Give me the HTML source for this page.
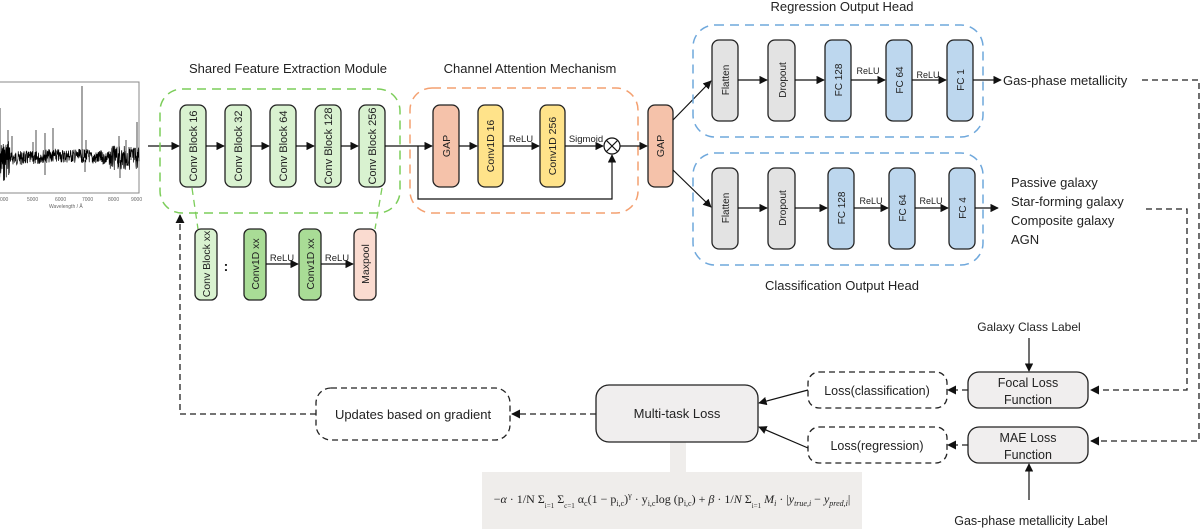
<!DOCTYPE html>
<html><head><meta charset="utf-8"><style>
body{margin:0;background:#fff;width:1200px;height:529px;overflow:hidden}
svg{display:block}
text{font-family:"Liberation Sans",sans-serif;fill:#222}
.b{stroke:#222;stroke-width:1.3}
.l{stroke:#111;stroke-width:1.2;fill:none}
.d{stroke:#222;stroke-width:1.3;fill:none;stroke-dasharray:6,4}
</style></head><body>
<svg width="1200" height="529" viewBox="0 0 1200 529" xmlns="http://www.w3.org/2000/svg">
<defs>
<marker id="a" viewBox="0 0 10 10" refX="9" refY="5" markerWidth="7" markerHeight="7" orient="auto-start-reverse"><path d="M0,0L10,5L0,10z" fill="#111"/></marker>
</defs>

<!-- spectrum -->
<rect x="-2" y="82" width="141" height="111" fill="#fff" stroke="#888" stroke-width="1"/>
<path id="spec" d="" stroke="#000" stroke-width="0.7" fill="none"/>
<text x="0" y="201" style="font-size:5px;fill:#666">000</text><text x="27" y="201" style="font-size:5px;fill:#666">5000</text><text x="55" y="201" style="font-size:5px;fill:#666">6000</text><text x="82" y="201" style="font-size:5px;fill:#666">7000</text><text x="108" y="201" style="font-size:5px;fill:#666">8000</text><text x="131" y="201" style="font-size:5px;fill:#666">9000</text><text x="49" y="208" style="font-size:5px;fill:#666">Wavelength / Å</text>

<line x1="148" y1="146" x2="179" y2="146" class="l" marker-end="url(#a)"/>

<!-- shared feature module -->
<text x="288" y="73" text-anchor="middle" style="font-size:13px">Shared Feature Extraction Module</text>
<rect x="160" y="89" width="240" height="124" rx="22" fill="none" stroke="#7ccd5a" stroke-width="1.5" stroke-dasharray="9,6"/>
<g class="b" fill="#d9f2d0">
<rect x="180" y="105" width="26" height="82" rx="7"/>
<rect x="225" y="105" width="26" height="82" rx="7"/>
<rect x="270" y="105" width="26" height="82" rx="7"/>
<rect x="315" y="105" width="26" height="82" rx="7"/>
<rect x="359" y="105" width="26" height="82" rx="7"/>
</g>
<text transform="translate(197,146) rotate(-90)" text-anchor="middle" style="font-size:11px">Conv Block 16</text>
<text transform="translate(242,146) rotate(-90)" text-anchor="middle" style="font-size:11px">Conv Block 32</text>
<text transform="translate(287,146) rotate(-90)" text-anchor="middle" style="font-size:11px">Conv Block 64</text>
<text transform="translate(332,146) rotate(-90)" text-anchor="middle" style="font-size:11px">Conv Block 128</text>
<text transform="translate(376,146) rotate(-90)" text-anchor="middle" style="font-size:11px">Conv Block 256</text>
<line x1="206" y1="146" x2="224" y2="146" class="l" marker-end="url(#a)"/>
<line x1="251" y1="146" x2="269" y2="146" class="l" marker-end="url(#a)"/>
<line x1="296" y1="146" x2="314" y2="146" class="l" marker-end="url(#a)"/>
<line x1="341" y1="146" x2="358" y2="146" class="l" marker-end="url(#a)"/>

<line x1="192" y1="188" x2="198" y2="229" stroke="#7ccd5a" stroke-width="1.3" stroke-dasharray="7,5"/>
<line x1="382" y1="188" x2="375" y2="229" stroke="#7ccd5a" stroke-width="1.3" stroke-dasharray="7,5"/>
<rect x="195" y="229" width="22" height="71" rx="6" fill="#d9f2d0" class="b"/>
<text transform="translate(210,264) rotate(-90)" text-anchor="middle" style="font-size:10.5px">Conv Block xx</text>
<text x="226" y="271" text-anchor="middle" style="font-size:14px;font-weight:bold">:</text>
<rect x="244" y="229" width="22" height="71" rx="6" fill="#a9dc96" class="b"/>
<text transform="translate(259,264) rotate(-90)" text-anchor="middle" style="font-size:10.5px">Conv1D xx</text>
<rect x="299" y="229" width="22" height="71" rx="6" fill="#a9dc96" class="b"/>
<text transform="translate(314,264) rotate(-90)" text-anchor="middle" style="font-size:10.5px">Conv1D xx</text>
<rect x="354" y="229" width="22" height="71" rx="6" fill="#fadbd0" class="b"/>
<text transform="translate(369,264) rotate(-90)" text-anchor="middle" style="font-size:10.5px">Maxpool</text>
<line x1="266" y1="264" x2="298" y2="264" class="l" marker-end="url(#a)"/>
<line x1="321" y1="264" x2="353" y2="264" class="l" marker-end="url(#a)"/>
<text x="282" y="261" text-anchor="middle" style="font-size:9.5px">ReLU</text>
<text x="337" y="261" text-anchor="middle" style="font-size:9.5px">ReLU</text>

<!-- channel attention -->
<text x="530" y="73" text-anchor="middle" style="font-size:13px">Channel Attention Mechanism</text>
<rect x="410" y="88" width="228" height="125" rx="22" fill="none" stroke="#f4a070" stroke-width="1.5" stroke-dasharray="9,6"/>
<rect x="433" y="105" width="26" height="82" rx="7" fill="#f5c2aa" class="b"/>
<text transform="translate(450,146) rotate(-90)" text-anchor="middle" style="font-size:10.5px">GAP</text>
<rect x="478" y="105" width="25" height="82" rx="7" fill="#ffe38a" class="b"/>
<text transform="translate(494,146) rotate(-90)" text-anchor="middle" style="font-size:10.5px">Conv1D 16</text>
<rect x="540" y="105" width="25" height="82" rx="7" fill="#ffe38a" class="b"/>
<text transform="translate(556,146) rotate(-90)" text-anchor="middle" style="font-size:10.5px">Conv1D 256</text>
<line x1="385" y1="146" x2="432" y2="146" class="l" marker-end="url(#a)"/>
<line x1="459" y1="146" x2="477" y2="146" class="l" marker-end="url(#a)"/>
<line x1="503" y1="146" x2="539" y2="146" class="l" marker-end="url(#a)"/>
<line x1="565" y1="146" x2="603" y2="146" class="l" marker-end="url(#a)"/>
<text x="521" y="142" text-anchor="middle" style="font-size:9.5px">ReLU</text>
<text x="586" y="142" text-anchor="middle" style="font-size:9.5px">Sigmoid</text>
<circle cx="612" cy="146" r="8" fill="#fff" stroke="#111" stroke-width="1.2"/>
<path d="M606.3,140.3L617.7,151.7M617.7,140.3L606.3,151.7" stroke="#111" stroke-width="1.1"/>
<path d="M418,146V199H612V155" class="l" marker-end="url(#a)"/>
<line x1="620" y1="146" x2="647" y2="146" class="l" marker-end="url(#a)"/>
<rect x="648" y="105" width="25" height="82" rx="7" fill="#f5c2aa" class="b"/>
<text transform="translate(664,146) rotate(-90)" text-anchor="middle" style="font-size:10.5px">GAP</text>
<line x1="673" y1="120" x2="711" y2="81" class="l" marker-end="url(#a)"/>
<line x1="673" y1="170" x2="711" y2="207" class="l" marker-end="url(#a)"/>

<!-- regression head -->
<text x="842" y="11" text-anchor="middle" style="font-size:13px">Regression Output Head</text>
<rect x="693" y="25" width="290" height="112" rx="22" fill="none" stroke="#6fa8dc" stroke-width="1.5" stroke-dasharray="9,6"/>
<rect x="712" y="40" width="26" height="81" rx="7" fill="#e3e3e3" class="b"/>
<text transform="translate(729,80) rotate(-90)" text-anchor="middle" style="font-size:10px">Flatten</text>
<rect x="768" y="40" width="27" height="81" rx="7" fill="#e3e3e3" class="b"/>
<text transform="translate(786,80) rotate(-90)" text-anchor="middle" style="font-size:10px">Dropout</text>
<rect x="825" y="40" width="26" height="81" rx="7" fill="#bdd7ee" class="b"/>
<text transform="translate(842,80) rotate(-90)" text-anchor="middle" style="font-size:10px">FC 128</text>
<rect x="886" y="40" width="26" height="81" rx="7" fill="#bdd7ee" class="b"/>
<text transform="translate(903,80) rotate(-90)" text-anchor="middle" style="font-size:10px">FC 64</text>
<rect x="947" y="40" width="26" height="81" rx="7" fill="#bdd7ee" class="b"/>
<text transform="translate(964,80) rotate(-90)" text-anchor="middle" style="font-size:10px">FC 1</text>
<line x1="738" y1="80" x2="767" y2="80" class="l" marker-end="url(#a)"/>
<line x1="795" y1="80" x2="824" y2="80" class="l" marker-end="url(#a)"/>
<line x1="851" y1="80" x2="885" y2="80" class="l" marker-end="url(#a)"/>
<line x1="912" y1="80" x2="946" y2="80" class="l" marker-end="url(#a)"/>
<text x="868" y="74" text-anchor="middle" style="font-size:9px">ReLU</text>
<text x="928" y="78" text-anchor="middle" style="font-size:9px">ReLU</text>
<line x1="973" y1="80" x2="1001" y2="80" class="l" marker-end="url(#a)"/>
<text x="1003" y="85" style="font-size:13px">Gas-phase metallicity</text>
<path d="M1142,80H1199V441H1091" class="d" marker-end="url(#a)"/>

<!-- classification head -->
<text x="842" y="290" text-anchor="middle" style="font-size:13px">Classification Output Head</text>
<rect x="693" y="153" width="290" height="112" rx="22" fill="none" stroke="#6fa8dc" stroke-width="1.5" stroke-dasharray="9,6"/>
<rect x="712" y="168" width="26" height="81" rx="7" fill="#e3e3e3" class="b"/>
<text transform="translate(729,208) rotate(-90)" text-anchor="middle" style="font-size:10px">Flatten</text>
<rect x="768" y="168" width="27" height="81" rx="7" fill="#e3e3e3" class="b"/>
<text transform="translate(786,208) rotate(-90)" text-anchor="middle" style="font-size:10px">Dropout</text>
<rect x="828" y="168" width="26" height="81" rx="7" fill="#bdd7ee" class="b"/>
<text transform="translate(845,208) rotate(-90)" text-anchor="middle" style="font-size:10px">FC 128</text>
<rect x="889" y="168" width="26" height="81" rx="7" fill="#bdd7ee" class="b"/>
<text transform="translate(906,208) rotate(-90)" text-anchor="middle" style="font-size:10px">FC 64</text>
<rect x="949" y="168" width="26" height="81" rx="7" fill="#bdd7ee" class="b"/>
<text transform="translate(966,208) rotate(-90)" text-anchor="middle" style="font-size:10px">FC 4</text>
<line x1="738" y1="208" x2="767" y2="208" class="l" marker-end="url(#a)"/>
<line x1="795" y1="208" x2="827" y2="208" class="l" marker-end="url(#a)"/>
<line x1="854" y1="208" x2="888" y2="208" class="l" marker-end="url(#a)"/>
<line x1="915" y1="208" x2="948" y2="208" class="l" marker-end="url(#a)"/>
<text x="871" y="204" text-anchor="middle" style="font-size:9px">ReLU</text>
<text x="931" y="204" text-anchor="middle" style="font-size:9px">ReLU</text>
<line x1="975" y1="208" x2="998" y2="208" class="l" marker-end="url(#a)"/>
<text x="1011" y="187" style="font-size:13px">Passive galaxy</text><text x="1011" y="206" style="font-size:13px">Star-forming galaxy</text><text x="1011" y="225" style="font-size:13px">Composite galaxy</text><text x="1011" y="244" style="font-size:13px">AGN</text>
<path d="M1146,209H1187V390H1091" class="d" marker-end="url(#a)"/>

<!-- loss section -->
<text x="1029" y="331" text-anchor="middle" style="font-size:12px">Galaxy Class Label</text>
<line x1="1029" y1="338" x2="1029" y2="371" class="l" marker-end="url(#a)"/>
<rect x="968" y="372" width="120" height="36" rx="11" fill="#f0eeee" class="b"/>
<text x="1028" y="387" text-anchor="middle" style="font-size:12.5px">Focal Loss</text>
<text x="1028" y="404" text-anchor="middle" style="font-size:12.5px">Function</text>
<rect x="968" y="427" width="120" height="36" rx="11" fill="#f0eeee" class="b"/>
<text x="1028" y="442" text-anchor="middle" style="font-size:12.5px">MAE Loss</text>
<text x="1028" y="459" text-anchor="middle" style="font-size:12.5px">Function</text>
<text x="1031" y="525" text-anchor="middle" style="font-size:12.5px">Gas-phase metallicity Label</text>
<line x1="1029" y1="500" x2="1029" y2="464" class="l" marker-end="url(#a)"/>

<rect x="808" y="372" width="139" height="36" rx="11" fill="none" class="d"/>
<text x="877" y="395" text-anchor="middle" style="font-size:12.5px">Loss(classification)</text>
<rect x="808" y="427" width="139" height="36" rx="11" fill="none" class="d"/>
<text x="877" y="450" text-anchor="middle" style="font-size:12.5px">Loss(regression)</text>
<line x1="968" y1="390" x2="948" y2="390" class="d" marker-end="url(#a)"/>
<line x1="968" y1="445" x2="948" y2="445" class="d" marker-end="url(#a)"/>
<line x1="808" y1="390" x2="759" y2="403" class="l" marker-end="url(#a)"/>
<line x1="808" y1="448" x2="759" y2="427" class="l" marker-end="url(#a)"/>

<rect x="670" y="442" width="16" height="32" fill="#efedeb"/>
<rect x="482" y="472" width="380" height="57" fill="#efedeb"/>
<rect x="596" y="385" width="162" height="57" rx="13" fill="#f0eeee" class="b"/>
<text x="677" y="418" text-anchor="middle" style="font-size:13px">Multi-task Loss</text>
<text x="672" y="503" text-anchor="middle" style="font-family:'Liberation Serif',serif;font-size:12px">−<tspan font-style="italic">α</tspan> · <tspan>1/N</tspan> Σ<tspan font-size="7" dy="5">i=1</tspan><tspan dy="-5"> Σ</tspan><tspan font-size="7" dy="5">c=1</tspan><tspan dy="-5"> α</tspan><tspan font-size="8" dy="3">c</tspan><tspan dy="-3">(1 − p</tspan><tspan font-size="8" dy="3">i,c</tspan><tspan dy="-3">)</tspan><tspan font-size="8" dy="-5">γ</tspan><tspan dy="5"> · y</tspan><tspan font-size="8" dy="3">i,c</tspan><tspan dy="-3">log (p</tspan><tspan font-size="8" dy="3">i,c</tspan><tspan dy="-3">) + </tspan><tspan font-style="italic">β</tspan> · 1/<tspan font-style="italic">N</tspan> Σ<tspan font-size="7" dy="5">i=1</tspan><tspan dy="-5" font-style="italic"> M</tspan><tspan font-size="8" dy="3" font-style="italic">i</tspan><tspan dy="-3"> · |</tspan><tspan font-style="italic">y</tspan><tspan font-size="8" dy="3" font-style="italic">true,i</tspan><tspan dy="-3"> − </tspan><tspan font-style="italic">y</tspan><tspan font-size="8" dy="3" font-style="italic">pred,i</tspan><tspan dy="-3">|</tspan></text>

<line x1="596" y1="414" x2="512" y2="414" class="d" marker-end="url(#a)"/>
<rect x="316" y="388" width="194" height="52" rx="15" fill="none" class="d"/>
<text x="413" y="419" text-anchor="middle" style="font-size:13px">Updates based on gradient</text>
<path d="M316,414H180V215" class="d" marker-end="url(#a)"/>
</svg>
<script>
(function(){var s=7,r=function(){s=(s*9301+49297)%233280;return s/233280;};
var d="M-2,150";for(var x=-2;x<=139;x+=0.25){var base=158+(x<5?4:0)-(x>40&&x<90?2:0);var amp=x<10?20:(x>110?12:7);var y=base+(r()-0.5)*2*amp;d+="L"+x.toFixed(2)+","+y.toFixed(1);}
var spikes=[[0,108],[8,130],[12,136],[33,142],[36,130],[45,133],[53,128],[82,86],[86,140],[101,150],[119,136],[126,140],[131,147],[137,122]];
spikes.forEach(function(p){d+="M"+p[0]+",160L"+p[0]+","+p[1];});
d+="M45,160L45,175M85,160L85,172M120,160L120,178";
document.getElementById("spec").setAttribute("d",d);})();
</script>
</body></html>
